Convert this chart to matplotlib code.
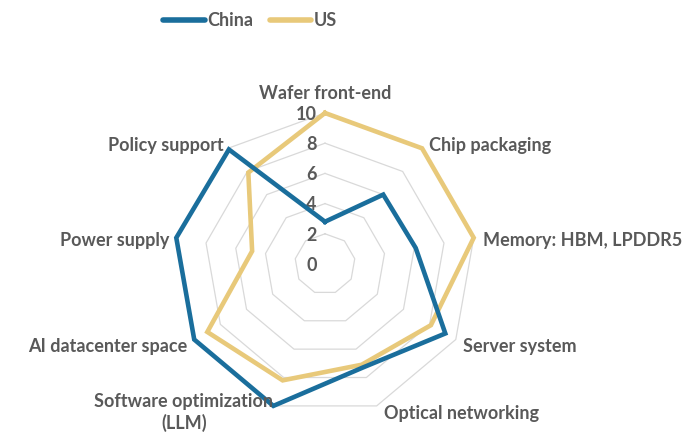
import matplotlib
matplotlib.use('Agg')
import matplotlib.pyplot as plt
import numpy as np

categories = ['Wafer front-end', 'Chip packaging', 'Memory: HBM, LPDDR5', 'Server system',
              'Optical networking', 'Software optimization\n(LLM)', 'AI datacenter space',
              'Power supply', 'Policy support']
china = [2.8, 6, 6.1, 9.2, 7.3, 10, 10, 10, 9.9]
us = [10, 10, 10, 8.1, 7.1, 8.2, 9, 4.9, 7.9]
ticks = [0, 2, 4, 6, 8, 10]

CHINA_COLOR = '#1A6E9C'
US_COLOR = '#E8C97A'
TEXT_COLOR = '#595959'
GRID_COLOR = '#D9D9D9'

plt.rcParams['font.family'] = ['Lato', 'DejaVu Sans']

fig = plt.figure(figsize=(6.89, 4.40), dpi=100)
ax = fig.add_axes([0.2525, 0.0568, 0.4384, 0.6864], projection='polar')
ax.set_theta_zero_location('N')
ax.set_theta_direction(-1)
ax.set_ylim(0, 10)
ax.grid(False)
ax.spines['polar'].set_visible(False)
ax.set_xticks([])
ax.set_yticks([])

n = len(categories)
angles = np.linspace(0, 2 * np.pi, n, endpoint=False)
closed = np.append(angles, angles[0])

# polygon gridlines
for r in ticks[1:]:
    ax.plot(closed, [r] * (n + 1), color=GRID_COLOR, lw=0.9, zorder=1, clip_on=False)

# radial tick labels along the top spoke
for r in ticks:
    ax.annotate(str(r), xy=(0, r), xytext=(-6, -1), textcoords='offset points',
                ha='right', va='center', fontsize=13, fontweight='bold', color=TEXT_COLOR)

l1, = ax.plot(closed, china + china[:1], color=CHINA_COLOR, lw=3.3, zorder=3,
              clip_on=False, solid_joinstyle='miter', label='China')
l2, = ax.plot(closed, us + us[:1], color=US_COLOR, lw=3.3, zorder=2,
              clip_on=False, solid_joinstyle='miter', label='US')

# category labels
offsets = [(0, 8, 'center', 'bottom'), (5, 2, 'left', 'center'), (7, -2, 'left', 'center'),
           (5, 1, 'left', 'top'), (5, 1, 'left', 'top'), (0, 9, 'right', 'top'),
           (-5, 1, 'right', 'top'), (-5, -2, 'right', 'center'), (-3, 2, 'right', 'center')]
for a, lab, (dx, dy, ha, va) in zip(angles, categories, offsets):
    ax.annotate(lab, xy=(a, 10), xytext=(dx, dy), textcoords='offset points',
                ha=ha, va=va, multialignment='center', fontsize=13,
                fontweight='bold', color=TEXT_COLOR, annotation_clip=False)

leg = fig.legend(handles=[l1, l2], loc='center', bbox_to_anchor=(0.363, 0.953), ncol=2,
                 frameon=False, handlelength=2.3, handletextpad=0.15, columnspacing=0.9,
                 prop={'size': 13, 'weight': 'bold'}, labelcolor=TEXT_COLOR)
for h in leg.legend_handles:
    h.set_linewidth(4)
    h.set_solid_capstyle('round')

fig.savefig('out.png', dpi=100)
